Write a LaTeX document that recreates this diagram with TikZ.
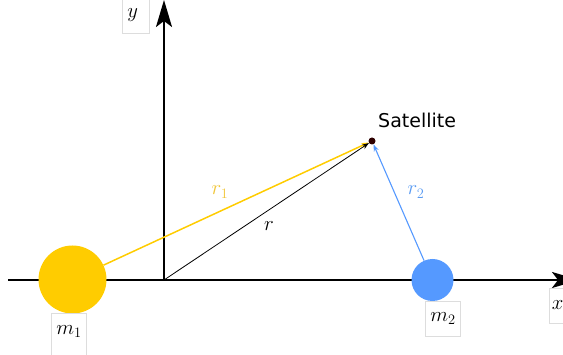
\documentclass[tikz,border=0pt]{standalone}
\usepackage{fontspec}
\newfontfamily\satfont{DejaVu Sans}
\usetikzlibrary{arrows.meta}
\definecolor{myyellow}{HTML}{FFCC00}
\definecolor{myblue}{HTML}{5599FF}
\definecolor{lblyellow}{HTML}{F0C537}
\definecolor{lblblue}{HTML}{5A9BF2}
\definecolor{boxgray}{HTML}{DDDDDD}
\definecolor{satred}{HTML}{2E0000}
\begin{document}
\begin{tikzpicture}[x=1pt,y=-1pt,
  axis/.style={line width=2pt,-{Stealth[length=27pt,width=16pt,inset=6pt]}},
  lbl/.style={draw=boxgray,line width=0.6pt,fill=white,minimum width=27pt,minimum height=35pt,inner xsep=5pt,font=\fontsize{20}{24}\selectfont},
  vec/.style={-{Stealth[length=7pt,width=5pt]}},
  mathlbl/.style={inner sep=0pt,font=\fontsize{20}{24}\selectfont}]
\useasboundingbox (0,0) rectangle (563,355);
% axes
\coordinate (O) at (164,280);
\coordinate (xs) at (8,280);
\coordinate (xe) at (579,280);
\coordinate (ye) at (164,0);
\draw[axis] (xs) -- (xe);
\draw[axis] (O) -- (ye);
% bodies
\node[circle,fill=myyellow,minimum size=68pt,inner sep=0pt] (m1) at (72.5,279.5) {};
\node[circle,fill=myblue,minimum size=42pt,inner sep=0pt] (m2) at (432.5,280) {};
\node[circle,fill=satred,minimum size=7pt,inner sep=0pt] (sat) at (372,141) {};
\node[anchor=base west,inner sep=0pt,font=\satfont\fontsize{19}{22}\selectfont] (satl) at (378,128) {Satellite};
% vectors
\draw[vec,myyellow,line width=1.5pt] (m1) -- (sat);
\draw[vec,black,line width=0.8pt] (O) -- (sat);
\draw[vec,myblue,line width=1.1pt] (m2) -- (sat);
% vector labels
\node[mathlbl,text=lblyellow] (r1) at (220,192) {$r_1$};
\node[mathlbl] (r) at (269,226) {$r$};
\node[mathlbl,text=lblblue] (r2) at (416,192) {$r_2$};
% boxed labels
\node[lbl,anchor=north,inner ysep=0pt,text height=21pt,text depth=24pt] (m1l) at (69,313) {$m_1$};
\node[lbl] (m2l) at (443,318.5) {$m_2$};
\node[lbl,anchor=west,inner xsep=3pt,text width=21pt,align=left] (xl) at (548.5,305.5) {$x$};
\node[lbl,anchor=west,inner xsep=5pt,text width=17pt,align=left] (yl) at (122,15.5) {$y$};
\end{tikzpicture}
\end{document}
